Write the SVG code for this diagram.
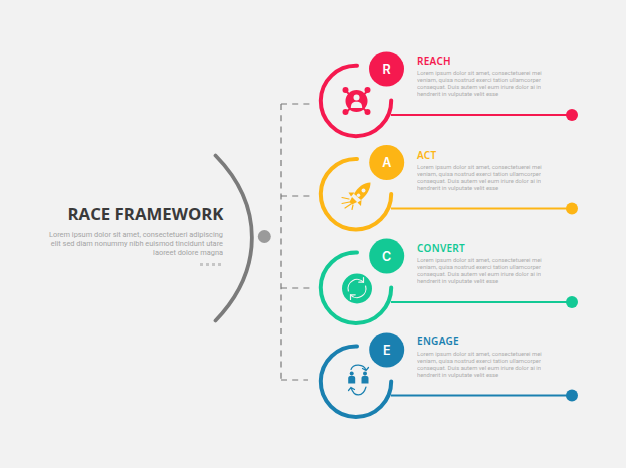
<svg xmlns="http://www.w3.org/2000/svg" width="626" height="468" viewBox="0 0 626 468">
<style>
.ring{fill:none;stroke-width:4;stroke-linecap:round}
.lead{fill:none;stroke-width:2}
.ic{fill:none;stroke-width:1.2;stroke-linecap:round;stroke-linejoin:round}
.letter{font:600 12.500px Inter,"Open Sans","Liberation Sans",sans-serif;fill:#fff;text-anchor:middle}
.head{font:600 10px "Noto Sans","Open Sans",sans-serif;letter-spacing:.3px}
.body{font:5.900px Roboto,"Liberation Sans",sans-serif;fill:#adadad;opacity:.99}
.desc{font:7.400px Roboto,"Liberation Sans",sans-serif;fill:#a3a3a3;text-anchor:end;opacity:.99}
.r{stroke:#f5194f}.rf{fill:#f5194f}
.a{stroke:#fdb515}.af{fill:#fdb515}
.c{stroke:#13c995}.cf{fill:#13c995}
.e{stroke:#1a80b0}.ef{fill:#1a80b0}
</style>
<rect width="626" height="468" fill="#f2f2f2"/>
<g id="connectors">
<path d="M281 104V380M281 104H312M281 196H312M281 288H312M281 380H308" fill="none" stroke="#777" stroke-width="1.200" stroke-dasharray="6 5.200"/>
<path class="lead r" d="M391 115H572"/>
<path class="lead a" d="M391 208.500H572"/>
<path class="lead c" d="M391 302H572"/>
<path class="lead e" d="M391 395.500H572"/>
</g>
<g id="main">
<path d="M215.500 155.500C264 205 264 270 215.500 320.500" fill="none" stroke="#7b7b7b" stroke-width="3.800" stroke-linecap="round"/>
<circle cx="264.300" cy="236.500" r="6.500" fill="#9a9a9a"/>
<text x="223.500" y="220.300" text-anchor="end" font-family="Open Sans, sans-serif" font-weight="700" font-size="16.800" fill="#3a3a3a">RACE FRAMEWORK</text>
<text class="desc" x="223" y="236.500">Lorem ipsum dolor sit amet, consectetueri adipiscing</text>
<text class="desc" x="223" y="245.500">elit sed diam nonummy nibh euismod tincidunt utare</text>
<text class="desc" x="223" y="254.500">laoreet dolore magna</text>
<g fill="#c6c6c6"><rect x="200" y="263" width="3" height="3"/><rect x="206" y="263" width="3" height="3"/><rect x="212" y="263" width="3" height="3"/><rect x="218" y="263" width="3" height="3"/></g>
</g>
<g id="reach">
<path class="ring r" d="M357 65.800A35.200 35.200 0 1 0 391.200 100.500"/>
<circle class="rf" cx="386.500" cy="69" r="17.500"/>
<text class="letter" x="386.500" y="73.600">R</text>
<circle class="rf" cx="572" cy="115" r="6"/>
<g id="reach-icon">
<path class="r" stroke-width="1.800" d="M345.500 90.500L368 113M368 90.500L345.500 113" fill="none"/>
<circle class="rf" cx="345.500" cy="90" r="3"/><circle class="rf" cx="367.500" cy="90" r="3"/><circle class="rf" cx="345.500" cy="112" r="3"/><circle class="rf" cx="367.500" cy="112" r="3"/>
<circle class="rf" cx="356.500" cy="101" r="11"/>
<circle cx="356.500" cy="97.500" r="3" fill="#f2f2f2"/>
<path d="M350.800 108C351 103 353 101.800 356.500 101.800S362 103 362.200 108Z" fill="#f2f2f2"/>
</g>
<text class="head rf" x="417" y="64.500">REACH</text>
<text class="body" x="417" y="75">Lorem ipsum dolor sit amet, consectetuerei mei</text>
<text class="body" x="417" y="82">veniam, quisa nostrud exerci tation ullamcorper</text>
<text class="body" x="417" y="89">consequat. Duis autem vel eum iriure dolor ai in</text>
<text class="body" x="417" y="96">hendrerit in vulputate velit esse</text>
</g>
<g id="act">
<path class="ring a" d="M357 159A35.200 35.200 0 1 0 391.200 194"/>
<circle class="af" cx="386.700" cy="162.500" r="17.500"/>
<text class="letter" x="386.700" y="167.100">A</text>
<circle class="af" cx="572" cy="208.500" r="6"/>
<g id="act-icon">
<path class="af" d="M370.500 182.500C370.500 189 367 195 361 200L354 194C358 187 363 183 370.500 182.500Z"/>
<circle cx="363.500" cy="190.500" r="2" fill="#f2f2f2"/><circle cx="358.500" cy="195.200" r="1.700" fill="#f2f2f2"/>
<path class="af" d="M354.500 192.500L348.500 192.500L351 196.500ZM361.500 200L361 206L357.500 202.500Z"/>
<path class="af" d="M352 197L357 202L352 204.500L349.500 202Z"/>
<path class="ic a" d="M349 199L342 197.500M349.500 202L342 203.500M351 204L345 208M353 205L352 209.500"/>
</g>
<text class="head af" x="417" y="158.500">ACT</text>
<text class="body" x="417" y="168.800">Lorem ipsum dolor sit amet, consectetuerei mei</text>
<text class="body" x="417" y="175.800">veniam, quisa nostrud exerci tation ullamcorper</text>
<text class="body" x="417" y="182.800">consequat. Duis autem vel eum iriure dolor ai in</text>
<text class="body" x="417" y="189.800">hendrerit in vulputate velit esse</text>
</g>
<g id="convert">
<path class="ring c" d="M357 252.500A35.200 35.200 0 1 0 391.200 287.500"/>
<circle class="cf" cx="386.700" cy="256" r="17.500"/>
<text class="letter" x="386.700" y="260.600">C</text>
<circle class="cf" cx="572" cy="302" r="6"/>
<g id="convert-icon">
<circle class="cf" cx="357" cy="288.500" r="15"/>
<path class="ic" stroke="#f2f2f2" d="M348.400 291A9 9 0 0 1 363.500 282.200M365.600 286A9 9 0 0 1 350.500 294.800"/>
<path class="ic" stroke="#f2f2f2" d="M363.500 277.500V282.200H358.800M350.500 299.500V294.800H355.200"/>
</g>
<text class="head cf" x="417" y="252">CONVERT</text>
<text class="body" x="417" y="262.300">Lorem ipsum dolor sit amet, consectetuerei mei</text>
<text class="body" x="417" y="269.300">veniam, quisa nostrud exerci tation ullamcorper</text>
<text class="body" x="417" y="276.300">consequat. Duis autem vel eum iriure dolor ai in</text>
<text class="body" x="417" y="283.300">hendrerit in vulputate velit esse</text>
</g>
<g id="engage">
<path class="ring e" d="M357 346.500A35.200 35.200 0 1 0 391.200 381.500"/>
<circle class="ef" cx="386.700" cy="350" r="17.500"/>
<text class="letter" x="386.700" y="354.600">E</text>
<circle class="ef" cx="572" cy="395.500" r="6"/>
<g id="engage-icon">
<circle class="ef" cx="351.700" cy="373.500" r="2"/><circle class="ef" cx="365" cy="373.500" r="2"/>
<path class="ef" d="M348.200 383.500V378C348.200 376.500 349.700 375.800 351.700 375.800S355.200 376.500 355.200 378V383.500ZM361.500 383.500V378C361.500 376.500 363 375.800 365 375.800S368.500 376.500 368.500 378V383.500Z"/>
<path class="ic e" d="M351 369.500C353 363.500 364 363.500 366 370.500M366 370.500L368.500 367.500M366 370.500L362.500 368.500M366 387C363 397.500 354 397.500 351 387.500M351 387.500L348.500 390.500M351 387.500L354.500 389.500"/>
</g>
<text class="head ef" x="417" y="345">ENGAGE</text>
<text class="body" x="417" y="355.500">Lorem ipsum dolor sit amet, consectetuerei mei</text>
<text class="body" x="417" y="362.500">veniam, quisa nostrud exerci tation ullamcorper</text>
<text class="body" x="417" y="369.500">consequat. Duis autem vel eum iriure dolor ai in</text>
<text class="body" x="417" y="376.500">hendrerit in vulputate velit esse</text>
</g>
</svg>
